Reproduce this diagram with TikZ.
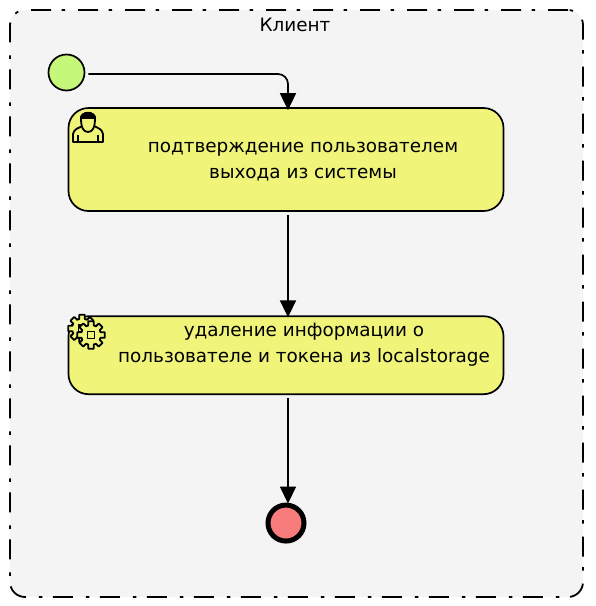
\documentclass[tikz,border=0pt]{standalone}
\usepackage{fontspec}
\setmainfont{DejaVu Sans}
\usetikzlibrary{arrows.meta,positioning,calc}
\definecolor{poolfill}{HTML}{F4F4F4}
\definecolor{taskfill}{HTML}{F0F57A}
\definecolor{startfill}{HTML}{C5F77B}
\definecolor{stopfill}{HTML}{F97C7C}
\tikzset{
  pool/.style={draw,line width=1.8pt,fill=poolfill,rounded corners=15pt,minimum width=573pt,minimum height=587pt,inner sep=0pt,dash pattern=on 20pt off 13pt on 3.5pt off 10.5pt},
  task/.style={draw,line width=1.7pt,fill=taskfill,rounded corners=20pt,minimum width=435pt,inner sep=0pt},
  tasktext/.style={align=center,font=\fontsize{18.4}{26}\selectfont,inner sep=0pt},
  icon/.style={line width=1.8pt,line join=round},
  flow/.style={-{Triangle[length=17pt,width=16pt]},line width=1.7pt,rounded corners=10pt}
}
\begin{document}
\begin{tikzpicture}[x=1pt,y=-1pt]
\useasboundingbox (0,0) rectangle (596,606);
\node[pool] (client) at (296.5,303.5) {};
\node[below=5pt of client.north,font=\fontsize{18.4}{20}\selectfont,xshift=-1.5pt] (clienttitle) {Клиент};
\node[circle,draw,line width=1.7pt,fill=startfill,minimum size=36pt,inner sep=0pt] (start) at (66.5,72.5) {};
\node[task,minimum height=103pt] (confirm) at (286,159.5) {};
\node[task,minimum height=78pt,below=103.5pt of confirm] (remove) {};
\node[circle,draw,line width=5pt,fill=stopfill,minimum size=36pt,inner sep=0pt,below=107.5pt of remove] (stop) {};
\node[tasktext] (confirmtext) at ([xshift=17pt,yshift=-2.5pt]confirm) {подтверждение пользователем\\выхода из системы};
\node[tasktext] (removetext) at ([xshift=18pt,yshift=10.5pt]remove) {удаление информации о\\пользователе и токена из localstorage};
% connectors
\draw[flow] ([xshift=3pt,yshift=-1.5pt]start.east) -| ([xshift=2pt,yshift=-3pt]confirm.north);
\draw[flow] ([xshift=2pt,yshift=-3pt]confirm.south) -- ([xshift=2pt,yshift=-2pt]remove.north);
\draw[flow] ([xshift=2pt,yshift=-3pt]remove.south) -- ([xshift=2pt,yshift=-1pt]stop.north);
% user icon
\begin{scope}[icon]
\draw[fill=taskfill] (73,142) -- (73,134) .. controls (74,129) and (78,128) .. (83,126) -- (94,126) .. controls (98,128) and (102,129) .. (103,134) -- (103,142) -- cycle;
\draw (78,142) -- (78,135) (98,142) -- (98,135);
\draw[fill=taskfill] (81,118) .. controls (81,127) and (83,132) .. (88,132) .. controls (93,132) and (95,127) .. (95,118) -- cycle;
\fill (80,120) .. controls (78,109) and (98,109) .. (96,120) .. controls (91,116) and (85,116) .. (80,120) -- cycle;
\end{scope}
% gear icon
\foreach \gearx/\geary in {82/328.5,91/335}{
  \begin{scope}[icon,shift={(\gearx,\geary)}]
  \draw[fill=taskfill] (-11:14) \foreach \a in {0,45,...,315}{ -- (\a-11:14) -- (\a+11:14) -- (\a+15.5:10) -- (\a+29.5:10)} -- cycle;
  \draw (-3.5,-3.5) rectangle (3.5,3.5);
  \end{scope}
}
\end{tikzpicture}
\end{document}
